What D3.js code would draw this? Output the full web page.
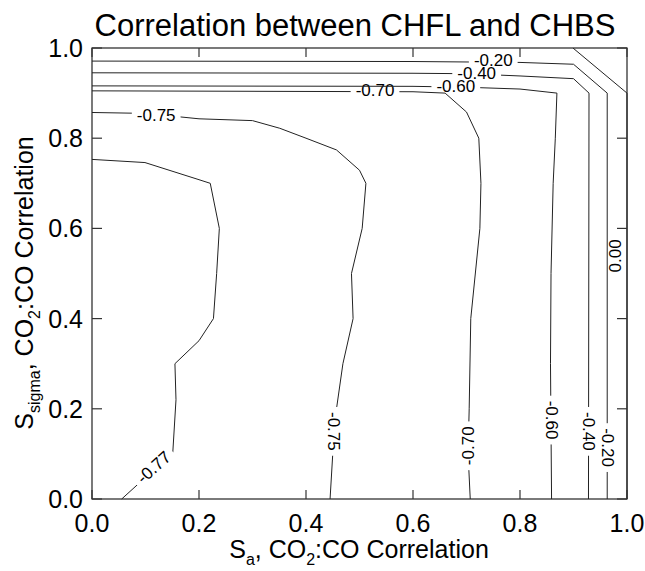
<html>
  <head>
    <script src="https://d3js.org/d3.v7.min.js"></script>
    <style>
      body { margin: 0; background: white; }
      text { font-family: "Liberation Sans", Arial, Helvetica, sans-serif; fill: black; }
    </style>
  </head>
  <body>
    <svg id="chart" width="645" height="571"></svg>
    <script>
      // contour polylines as [S_a, S_sigma]
      const cNeg020 = [[0, 0.971], [0.6, 0.970], [0.8, 0.968], [0.9, 0.964], [0.963, 0.9], [0.963, 0.0]];
      const cNeg040 = [[0, 0.945], [0.6, 0.944], [0.7, 0.943], [0.8, 0.938], [0.9, 0.932], [0.929, 0.9], [0.928, 0.0]];
      const cNeg060 = [[0, 0.916], [0.6, 0.915], [0.7, 0.913], [0.8, 0.909], [0.869, 0.9], [0.866, 0.8],
                       [0.862, 0.7], [0.858, 0.5], [0.857, 0.3], [0.859, 0.0]];
      const cNeg070 = [[0, 0.905], [0.6, 0.903], [0.66, 0.9], [0.7, 0.858], [0.723, 0.8], [0.727, 0.7],
                       [0.725, 0.6], [0.708, 0.4], [0.705, 0.2], [0.703, 0.1], [0.707, 0.0]];
      const cNeg075 = [[0, 0.857], [0.1, 0.855], [0.2, 0.843], [0.3, 0.839], [0.351, 0.822], [0.4, 0.8],
                       [0.457, 0.774], [0.5, 0.729], [0.512, 0.7], [0.505, 0.6], [0.485, 0.5], [0.488, 0.4],
                       [0.469, 0.3], [0.457, 0.2], [0.45, 0.1], [0.445, 0.0]];
      const cNeg077 = [[0, 0.753], [0.099, 0.746], [0.2, 0.708], [0.221, 0.7], [0.238, 0.6], [0.233, 0.5],
                       [0.227, 0.4], [0.2, 0.351], [0.155, 0.3], [0.157, 0.22], [0.151, 0.103], [0.0555, 0.0]];
      const cZero = [[0.899, 1.0], [1.0, 0.9], [1.0, 0.0]];

      const contours = [cNeg020, cNeg040, cNeg060, cNeg070, cNeg075, cNeg077, cZero];

      // label text, position [S_a, S_sigma] and rotation, index into contours
      const labelText = ["-0.20", "-0.40", "-0.60", "-0.70", "-0.75", "-0.77",
                         "-0.75", "-0.70", "-0.60", "-0.40", "-0.20", "0.00"];
      const labelPos = [[0.75, 0.972], [0.719, 0.944], [0.68, 0.915], [0.529, 0.905], [0.12, 0.851], [0.116, 0.07],
                        [0.452, 0.15], [0.703, 0.118], [0.859, 0.175], [0.928, 0.15], [0.963, 0.114], [0.979, 0.539]];
      const labelRot = [0, 0, 0, 0, 0, -42, 90, -90, 90, 90, 90, -90];
      const labelOf = [0, 1, 2, 3, 4, 5, 4, 3, 2, 1, 0, 6];

      const ticks = [0.0, 0.2, 0.4, 0.6, 0.8, 1.0];

      const svg = d3.select("#chart");
      const x = d3.scaleLinear().domain([0, 1]).range([92, 627]);
      const y = d3.scaleLinear().domain([0, 1]).range([499, 48]);
      const fmt = d3.format(".1f");

      const line = d3.line().x(d => x(d[0])).y(d => y(d[1]));
      const defs = svg.append("defs");

      // labels first so their sizes can cut gaps in their own line
      const labelG = svg.append("g");
      const boxes = [];
      labelText.forEach((t, i) => {
        const px = x(labelPos[i][0]), py = y(labelPos[i][1]);
        const tx = labelG.append("text")
          .attr("transform", `translate(${px},${py}) rotate(${labelRot[i]})`)
          .attr("text-anchor", "middle")
          .attr("dominant-baseline", "central")
          .style("font-size", "17px")
          .text(t);
        const w = tx.node().getComputedTextLength();
        boxes.push({ px, py, w, i });
      });

      contours.forEach((c, k) => {
        const m = defs.append("mask").attr("id", "m" + k)
          .attr("maskUnits", "userSpaceOnUse")
          .attr("x", 0).attr("y", 0).attr("width", 645).attr("height", 571);
        m.append("rect").attr("width", 645).attr("height", 571).attr("fill", "white");
        boxes.filter(b => labelOf[b.i] === k).forEach(b => {
          m.append("rect")
            .attr("transform", `translate(${b.px},${b.py}) rotate(${labelRot[b.i]})`)
            .attr("x", -b.w / 2 - 5).attr("y", -7)
            .attr("width", b.w + 10).attr("height", 14)
            .attr("fill", "black");
        });
        svg.append("path")
          .datum(c)
          .attr("d", line)
          .attr("mask", `url(#m${k})`)
          .style("fill", "none")
          .style("stroke", "#222")
          .style("stroke-width", 1);
      });

      // frame and inward ticks on all four sides
      svg.append("rect")
        .attr("x", x(0)).attr("y", y(1))
        .attr("width", x(1) - x(0)).attr("height", y(0) - y(1))
        .style("fill", "none").style("stroke", "#222").style("stroke-width", 1.2);

      const tk = svg.append("g").style("stroke", "#333").style("stroke-width", 1.2);
      ticks.forEach(v => {
        tk.append("line").attr("x1", x(v)).attr("x2", x(v)).attr("y1", y(0)).attr("y2", y(0) - 9);
        tk.append("line").attr("x1", x(v)).attr("x2", x(v)).attr("y1", y(1)).attr("y2", y(1) + 9);
        tk.append("line").attr("y1", y(v)).attr("y2", y(v)).attr("x1", x(0)).attr("x2", x(0) + 10);
        tk.append("line").attr("y1", y(v)).attr("y2", y(v)).attr("x1", x(1)).attr("x2", x(1) - 10);
      });

      svg.selectAll("text.xt")
        .data(ticks)
        .join("text")
        .attr("class", "xt")
        .attr("x", d => x(d))
        .attr("y", 532)
        .attr("text-anchor", "middle")
        .style("font-size", "25px")
        .text(d => fmt(d));

      svg.selectAll("text.yt")
        .data(ticks)
        .join("text")
        .attr("class", "yt")
        .attr("x", 83)
        .attr("y", d => y(d) + 9)
        .attr("text-anchor", "end")
        .style("font-size", "25px")
        .text(d => fmt(d));

      // title
      svg.append("text")
        .attr("x", 355).attr("y", 36)
        .attr("text-anchor", "middle")
        .style("font-size", "31px")
        .text("Correlation between CHFL and CHBS");

      // x axis title
      const xl = svg.append("text")
        .attr("x", 359).attr("y", 558)
        .attr("text-anchor", "middle")
        .style("font-size", "25px");
      xl.append("tspan").text("S");
      xl.append("tspan").attr("dy", 7).style("font-size", "16px").text("a");
      xl.append("tspan").attr("dy", -7).text(", CO");
      xl.append("tspan").attr("dy", 7).style("font-size", "16px").text("2");
      xl.append("tspan").attr("dy", -7).text(":CO Correlation");

      // y axis title
      const yl = svg.append("text")
        .attr("transform", "translate(33,283) rotate(-90)")
        .attr("text-anchor", "middle")
        .style("font-size", "25px");
      yl.append("tspan").text("S");
      yl.append("tspan").attr("dy", 7).style("font-size", "16px").text("sigma");
      yl.append("tspan").attr("dy", -7).text(", CO");
      yl.append("tspan").attr("dy", 7).style("font-size", "16px").text("2");
      yl.append("tspan").attr("dy", -7).text(":CO Correlation");
    </script>
  </body>
</html>
